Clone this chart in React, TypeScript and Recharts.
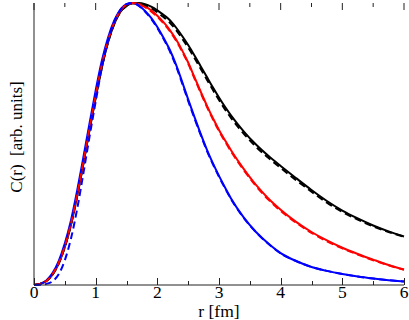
import React from 'react';
import { LineChart, Line, XAxis, YAxis, ReferenceLine } from 'recharts';

const rValues = [0, 0.1, 0.2, 0.3, 0.4, 0.5, 0.6, 0.7, 0.8, 0.9, 1.0, 1.1, 1.2, 1.3, 1.4, 1.5, 1.6, 1.7, 1.8, 1.9, 2.0, 2.1, 2.2, 2.3, 2.4, 2.5, 2.6, 2.7, 2.8, 2.9, 3.0, 3.1, 3.2, 3.4, 3.6, 3.8, 4.0, 4.25, 4.5, 4.75, 5.0, 5.25, 5.5, 5.75, 6.0];

const blueSolid = [0, 0.004, 0.016, 0.042, 0.085, 0.148, 0.23, 0.335, 0.452, 0.573, 0.69, 0.795, 0.877, 0.937, 0.977, 0.996, 1.0, 0.991, 0.972, 0.947, 0.915, 0.877, 0.835, 0.783, 0.722, 0.658, 0.597, 0.538, 0.482, 0.432, 0.387, 0.345, 0.305, 0.24, 0.188, 0.147, 0.113, 0.085, 0.064, 0.05, 0.039, 0.03, 0.023, 0.017, 0.012];
const blueDashed = [0, 0.001, 0.004, 0.013, 0.038, 0.088, 0.165, 0.27, 0.395, 0.525, 0.65, 0.77, 0.865, 0.932, 0.975, 0.996, 1.0, 0.99, 0.97, 0.944, 0.911, 0.873, 0.83, 0.778, 0.717, 0.653, 0.592, 0.534, 0.478, 0.429, 0.384, 0.342, 0.303, 0.238, 0.187, 0.146, 0.112, 0.085, 0.064, 0.05, 0.039, 0.03, 0.023, 0.017, 0.012];
const redSolid = [0, 0.004, 0.014, 0.038, 0.078, 0.138, 0.218, 0.32, 0.435, 0.556, 0.672, 0.78, 0.866, 0.93, 0.972, 0.994, 1.0, 0.997, 0.988, 0.974, 0.955, 0.932, 0.905, 0.872, 0.833, 0.789, 0.738, 0.687, 0.638, 0.592, 0.55, 0.512, 0.476, 0.412, 0.355, 0.307, 0.267, 0.224, 0.188, 0.158, 0.132, 0.11, 0.09, 0.071, 0.055];
const redDashed = [0, 0.004, 0.014, 0.038, 0.078, 0.138, 0.218, 0.32, 0.435, 0.556, 0.672, 0.78, 0.866, 0.93, 0.972, 0.994, 1.0, 0.996, 0.985, 0.97, 0.951, 0.928, 0.901, 0.868, 0.829, 0.785, 0.734, 0.683, 0.634, 0.588, 0.546, 0.508, 0.472, 0.408, 0.351, 0.303, 0.263, 0.221, 0.185, 0.155, 0.13, 0.108, 0.088, 0.07, 0.054];
const blackSolid = [0, 0.004, 0.014, 0.037, 0.076, 0.135, 0.214, 0.315, 0.43, 0.55, 0.665, 0.772, 0.86, 0.925, 0.968, 0.99, 0.999, 1.0, 0.996, 0.987, 0.974, 0.958, 0.94, 0.914, 0.884, 0.851, 0.815, 0.777, 0.739, 0.701, 0.665, 0.631, 0.6, 0.545, 0.498, 0.458, 0.422, 0.379, 0.337, 0.298, 0.264, 0.236, 0.211, 0.19, 0.172];
const blackDashed = [0, 0.004, 0.014, 0.037, 0.076, 0.135, 0.214, 0.315, 0.43, 0.55, 0.665, 0.772, 0.86, 0.925, 0.968, 0.99, 0.999, 0.999, 0.993, 0.982, 0.967, 0.95, 0.931, 0.905, 0.875, 0.842, 0.806, 0.768, 0.73, 0.692, 0.656, 0.622, 0.591, 0.537, 0.49, 0.451, 0.415, 0.372, 0.331, 0.292, 0.259, 0.232, 0.208, 0.188, 0.171];

const xTicks = [0, 0.5, 1, 1.5, 2, 2.5, 3, 3.5, 4, 4.5, 5, 5.5, 6];
const xLabel = 'r [fm]';
const yLabel = 'C(r)\u00A0 [arb. units]';

const data = rValues.map((r, i) => ({
  r,
  bs: blueSolid[i],
  bd: blueDashed[i],
  rs: redSolid[i],
  rd: redDashed[i],
  ks: blackSolid[i],
  kd: blackDashed[i],
}));

const FONT = '"Liberation Serif", "DejaVu Serif", serif';
const FRAME = '#222';
const MAJOR_PX = 7;
const MINOR_PX = 4;
const isMajor = (v: number) => Math.abs(v - Math.round(v)) < 1e-6;

const BottomTick = (props: any) => {
  const { x, y, payload } = props;
  const v = Number(payload.value);
  const major = isMajor(v);
  const xx = Math.round(x) + 0.5;
  return (
    <g>
      <path d={`M${xx},${y}L${xx},${y - (major ? MAJOR_PX : MINOR_PX)}`} stroke={FRAME} strokeWidth={1} fill="none" />
      {major && (
        <text x={x} y={y + 13} textAnchor="middle" fontFamily={FONT} fontSize={17.5} fill="#000">
          {String(v)}
        </text>
      )}
    </g>
  );
};

export default function App() {
  return (
    <div style={{ position: 'absolute', left: 0, top: 0, background: '#fff' }}>
      <LineChart width={409} height={320} data={data} margin={{ top: 3, right: 5, bottom: 0, left: 0 }}>
        <XAxis
          xAxisId="b"
          type="number"
          dataKey="r"
          domain={[0, 6]}
          ticks={xTicks}
          interval={0}
          tickLine={false}
          tickSize={0}
          tickMargin={0}
          tick={BottomTick}
          axisLine={{ stroke: FRAME }}
          height={35}
          label={{
            value: xLabel,
            position: 'insideBottom',
            offset: 3,
            style: { fontFamily: FONT, fontSize: 17.5, fill: '#000' },
          }}
        />
        <XAxis xAxisId="t" orientation="top" type="number" dataKey="r" domain={[0, 6]} tick={false} tickLine={false} axisLine={{ stroke: FRAME }} height={0} />
        <YAxis
          yAxisId="l"
          domain={[0, 1]}
          tick={false}
          tickLine={false}
          axisLine={{ stroke: FRAME }}
          width={34}
          label={{
            content: () => (
              <text x={22} y={137} transform="rotate(-90 22 137)" textAnchor="middle" fontFamily={FONT} fontSize={17} fill="#000">
                {yLabel}
              </text>
            ),
          }}
        />
        <YAxis yAxisId="r" orientation="right" domain={[0, 1]} tick={false} tickLine={false} axisLine={{ stroke: FRAME }} width={0} />
        {xTicks.map((t) => (
          <ReferenceLine
            key={`top${t}`}
            xAxisId="b"
            yAxisId="l"
            segment={[{ x: t, y: 1 }, { x: t, y: 1 - (isMajor(t) ? MAJOR_PX : MINOR_PX) / 282 }]}
            stroke={FRAME}
            strokeWidth={1}
          />
        ))}
        <Line xAxisId="b" yAxisId="l" type="monotone" dataKey="ks" stroke="#000000" strokeWidth={2} dot={false} isAnimationActive={false} />
        <Line xAxisId="b" yAxisId="l" type="monotone" dataKey="rs" stroke="#ff0000" strokeWidth={2} dot={false} isAnimationActive={false} />
        <Line xAxisId="b" yAxisId="l" type="monotone" dataKey="bs" stroke="#0000ff" strokeWidth={2} dot={false} isAnimationActive={false} />
        <Line xAxisId="b" yAxisId="l" type="monotone" dataKey="kd" stroke="#000000" strokeWidth={2} strokeDasharray="7 4" dot={false} isAnimationActive={false} />
        <Line xAxisId="b" yAxisId="l" type="monotone" dataKey="rd" stroke="#ff0000" strokeWidth={2} strokeDasharray="7 4" dot={false} isAnimationActive={false} />
        <Line xAxisId="b" yAxisId="l" type="monotone" dataKey="bd" stroke="#0000ff" strokeWidth={2} strokeDasharray="7 4" dot={false} isAnimationActive={false} />
      </LineChart>
    </div>
  );
}
